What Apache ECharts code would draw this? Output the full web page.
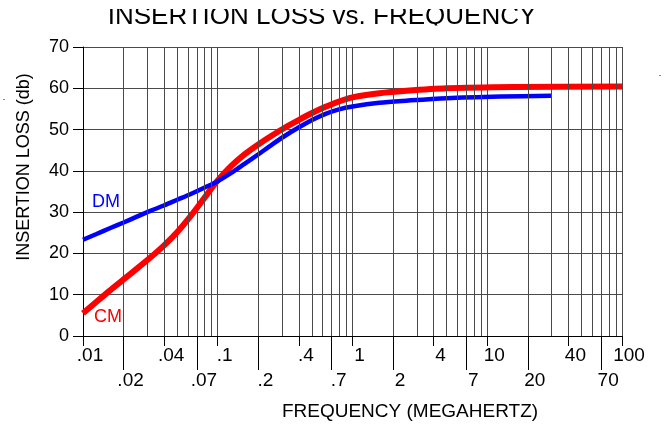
<!DOCTYPE html>
<html><head><meta charset="utf-8">
<script src="https://cdn.jsdelivr.net/npm/echarts@6/dist/echarts.min.js"></script>
<style>html,body{margin:0;padding:0;background:#fff}#c{width:667px;height:427px}</style>
</head><body><div id="c"></div>
<script>
// Frequency (MHz) and insertion loss (dB)
const dmFreq = [0.01, 0.0126, 0.0158, 0.02, 0.0251, 0.0316, 0.0398, 0.0501, 0.0631, 0.0794, 0.1, 0.126, 0.158, 0.2, 0.251, 0.316, 0.398, 0.501, 0.631, 0.794, 1, 1.58, 2.51, 5.0, 12.6, 29.8];
const dmLoss = [23.3, 24.7, 26.1, 27.5, 28.9, 30.3, 31.6, 33.0, 34.4, 35.9, 37.5, 39.5, 41.7, 44.0, 46.3, 48.5, 50.5, 52.3, 53.8, 54.9, 55.6, 56.5, 57.0, 57.6, 58.0, 58.2];
const cmFreq = [0.01, 0.0126, 0.0158, 0.02, 0.0251, 0.0316, 0.0398, 0.0501, 0.0631, 0.0794, 0.1, 0.126, 0.158, 0.2, 0.251, 0.316, 0.398, 0.501, 0.631, 0.794, 1, 1.58, 2.51, 5.0, 15.8, 100];
const cmLoss = [5.5, 8.3, 11.0, 13.7, 16.3, 19.0, 21.9, 25.2, 29.1, 33.4, 37.7, 41.2, 44.0, 46.4, 48.5, 50.5, 52.3, 54.0, 55.5, 56.8, 57.8, 58.8, 59.4, 60.0, 60.3, 60.45];

const xLabelsRow1 = [0.01, 0.04, 0.1, 0.4, 1, 4, 10, 40, 100];
const xLabelsRow2 = [0.02, 0.07, 0.2, 0.7, 2, 7, 20, 70];
const gridFreqs = [0.02,0.03,0.04,0.05,0.06,0.07,0.08,0.09,
                   0.2,0.3,0.4,0.5,0.6,0.7,0.8,0.9,
                   2,3,4,5,6,7,8,9,
                   20,30,40,50,60,70,80,90];

const FONT = '"Liberation Sans", Arial, sans-serif';
const GRID = '#4a4a4a';

function fmt(v) {
  const n = Number(Number(v).toPrecision(3));
  const s = String(n);
  return n < 1 ? s.replace(/^0/, '') : s;
}
function pairs(xs, ys) { return xs.map((x, i) => [x, ys[i]]); }

function labelAxis(values, tickLen, margin) {
  return {
    type: 'log', logBase: 10, min: 0.01, max: 100, position: 'bottom',
    axisLine: { show: false },
    axisTick: { show: true, customValues: values, length: tickLen, inside: false,
                lineStyle: { color: '#000', width: 1 } },
    axisLabel: { show: true, customValues: values, margin: margin, fontSize: 19,
                 fontFamily: FONT, color: '#000', padding: [0, 0, 0, 14],
                 formatter: v => fmt(v), hideOverlap: false },
    splitLine: { show: false }, minorTick: { show: false }
  };
}

const chart = echarts.init(document.getElementById('c'), null, { renderer: 'canvas' });
chart.setOption({
  animation: false,
  backgroundColor: '#fff',
  grid: { left: 83, right: 45, top: 47, bottom: 91 },
  xAxis: [
    {
      type: 'log', logBase: 10, min: 0.01, max: 100,
      axisLine: { show: true, lineStyle: { color: '#000', width: 1 } },
      axisTick: { show: false }, axisLabel: { show: false },
      splitLine: { show: true, lineStyle: { color: GRID, width: 1 } },
      minorTick: { show: false }, minorSplitLine: { show: false }
    },
    labelAxis(xLabelsRow1, 10, 10),
    labelAxis(xLabelsRow2, 34, 35)
  ],
  yAxis: {
    type: 'value', min: 0, max: 70, interval: 10,
    axisLine: { show: true, lineStyle: { color: '#000', width: 1 } },
    axisTick: { show: true, length: 10, lineStyle: { color: '#000' } },
    axisLabel: { fontSize: 18, fontFamily: FONT, color: '#000', margin: 14, padding: [0, 0, 8, 0] },
    splitLine: { show: true, lineStyle: { color: GRID, width: 1 } }
  },
  series: [
    {
      type: 'line', xAxisIndex: 0, data: [], z: 1, silent: true,
      markLine: {
        silent: true, symbol: ['none', 'none'], label: { show: false },
        lineStyle: { color: GRID, width: 1, type: 'solid' },
        emphasis: { disabled: true },
        data: gridFreqs.map(f => ({ xAxis: f }))
      }
    },
    {
      name: 'CM', type: 'line', xAxisIndex: 0, data: pairs(cmFreq, cmLoss),
      smooth: 0.3, showSymbol: false, z: 3,
      lineStyle: { color: '#ff0000', width: 6 }
    },
    {
      name: 'DM', type: 'line', xAxisIndex: 0, data: pairs(dmFreq, dmLoss),
      smooth: 0.3, showSymbol: false, z: 4,
      lineStyle: { color: '#0000ff', width: 4.5 }
    }
  ],
  graphic: [
    { type: 'text', z: 50, x: 322, y: 17,
      style: { text: 'INSERTION LOSS vs. FREQUENCY', font: '26px ' + FONT, fill: '#000',
               textAlign: 'center', textVerticalAlign: 'middle' } },
    { type: 'rect', z: 60, shape: { x: 80, y: 0, width: 500, height: 9 }, style: { fill: '#fff' } },
    { type: 'rect', z: 60, shape: { x: 80, y: 25.5, width: 500, height: 8 }, style: { fill: '#fff' } },
    { type: 'text', z: 50, x: 24, y: 167, rotation: Math.PI / 2,
      style: { text: 'INSERTION LOSS (db)', font: '18px ' + FONT, fill: '#000',
               textAlign: 'center', textVerticalAlign: 'middle' } },
    { type: 'text', z: 50, x: 410, y: 411.5,
      style: { text: 'FREQUENCY (MEGAHERTZ)', font: '19px ' + FONT, fill: '#000',
               textAlign: 'center', textVerticalAlign: 'middle' } },
    { type: 'text', z: 50, x: 106, y: 202,
      style: { text: 'DM', font: '18px ' + FONT, fill: '#0000ff',
               textAlign: 'center', textVerticalAlign: 'middle' } },
    { type: 'text', z: 50, x: 108, y: 317,
      style: { text: 'CM', font: '18px ' + FONT, fill: '#ff0000',
               textAlign: 'center', textVerticalAlign: 'middle' } },
    { type: 'rect', z: 50, shape: { x: 3, y: 99, width: 2, height: 1 }, style: { fill: '#888' } },
    { type: 'rect', z: 50, shape: { x: 659, y: 75, width: 2, height: 1 }, style: { fill: '#888' } }
  ]
});
</script>
</body></html>
